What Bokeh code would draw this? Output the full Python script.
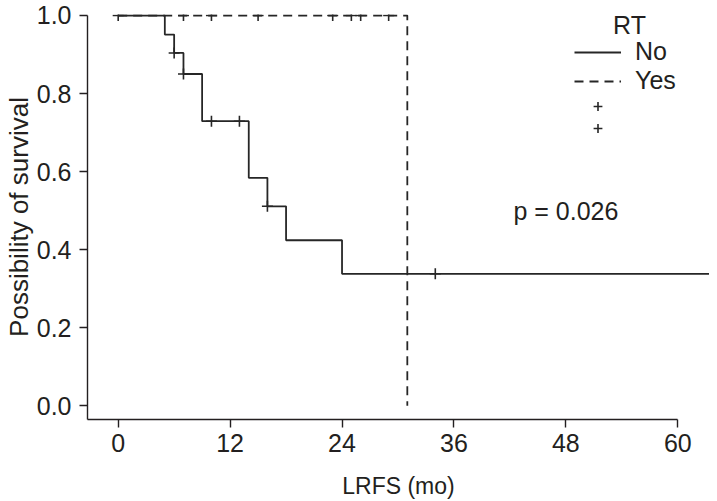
import numpy as np
from bokeh.plotting import figure
from bokeh.models import (Range1d, FixedTicker, Legend, LegendItem, Label,
                          CustomJSTickFormatter)
from bokeh.embed import file_html
from bokeh.resources import INLINE

# ---- data ----
no_times = [0, 5, 6, 7, 9, 14, 16, 18, 24, 66]
no_surv = [1.0, 0.951, 0.904, 0.850, 0.729, 0.584, 0.511, 0.424, 0.338, 0.338]
no_censor_times = [0, 6, 7, 10, 13, 16, 34]

yes_times = [0, 31]
yes_surv = [1.0, 0.0]
yes_censor_times = [7, 10, 15, 23, 25, 26, 29]

x_ticks = [0, 12, 24, 36, 48, 60]
y_ticks = [0.0, 0.2, 0.4, 0.6, 0.8, 1.0]
p_text = "p = 0.026"
legend_title = "RT"
groups = ["No", "Yes"]


def surv_at(times, surv, t):
    idx = np.searchsorted(np.array(times), np.array(t), side="right") - 1
    return list(np.array(surv)[idx])


FONT = "Liberation Sans"
INK = "#231f20"
LINE = "#262626"
FS = "25px"

p = figure(width=709, height=501, output_backend="svg", toolbar_location=None,
           x_range=Range1d(-3.29, 63.4), y_range=Range1d(-0.0354, 1.0025),
           min_border_left=79, min_border_right=0, min_border_top=14,
           min_border_bottom=81)
p.outline_line_color = None
p.grid.visible = False
p.background_fill_color = "white"

r_yes = p.step(yes_times, yes_surv, mode="after", line_color=LINE,
               line_width=1.8, line_dash="9 6")
r_no = p.step(no_times, no_surv, mode="after", line_color=LINE, line_width=1.8)

r_cn = p.scatter(no_censor_times, surv_at(no_times, no_surv, no_censor_times),
                 marker="cross", size=11, line_color=LINE, line_width=1.6)
r_cy = p.scatter(yes_censor_times, surv_at(yes_times, yes_surv, yes_censor_times),
                 marker="cross", size=11, line_color=LINE, line_width=1.6)

# axes
for ax in (p.xaxis[0], p.yaxis[0]):
    ax.axis_line_color = INK
    ax.axis_line_width = 1.4
    ax.major_tick_line_color = INK
    ax.major_tick_line_width = 1.4
    ax.major_tick_out = 8
    ax.major_tick_in = 0
    ax.minor_tick_line_color = None
    ax.major_label_text_font = FONT
    ax.major_label_text_font_size = FS
    ax.major_label_text_color = INK
    ax.axis_label_text_font = FONT
    ax.axis_label_text_font_style = "normal"
    ax.axis_label_text_color = INK

p.xaxis.axis_label_text_font_size = "23px"
p.yaxis.axis_label_text_font_size = "26px"
p.xaxis.ticker = FixedTicker(ticks=x_ticks)
p.yaxis.ticker = FixedTicker(ticks=y_ticks)
p.yaxis.formatter = CustomJSTickFormatter(code="return tick.toFixed(1);")
p.xaxis.bounds = (-3.29, 60)
p.yaxis.bounds = (-0.0354, 1.0)
p.xaxis.axis_label = "LRFS (mo)"
p.yaxis.axis_label = "Possibility of survival"
p.xaxis.major_label_standoff = 6
p.yaxis.major_label_standoff = 8
p.xaxis.axis_label_standoff = 18
p.yaxis.axis_label_standoff = 0

# legend
legend = Legend(items=[LegendItem(label=groups[0], renderers=[r_no]),
                       LegendItem(label=groups[1], renderers=[r_yes]),
                       LegendItem(label=" ", renderers=[r_cn]),
                       LegendItem(label=" ", renderers=[r_cy])],
                location=(487, 280), glyph_width=47, glyph_height=22,
                label_text_font=FONT, label_text_font_size=FS,
                label_text_color=INK, label_standoff=14, spacing=0,
                padding=0, margin=0, border_line_color=None,
                background_fill_alpha=0)
p.add_layout(legend, "center")

p.add_layout(Label(x=542, y=395, x_units="screen", y_units="screen",
                   text=legend_title, text_font=FONT, text_font_size=FS,
                   text_color=INK, text_align="center", text_baseline="middle"))
p.add_layout(Label(x=48, y=0.5, text=p_text, text_font=FONT,
                   text_font_size=FS, text_color=INK,
                   text_align="center", text_baseline="middle"))

open("out.html", "w").write(file_html(p, INLINE))
